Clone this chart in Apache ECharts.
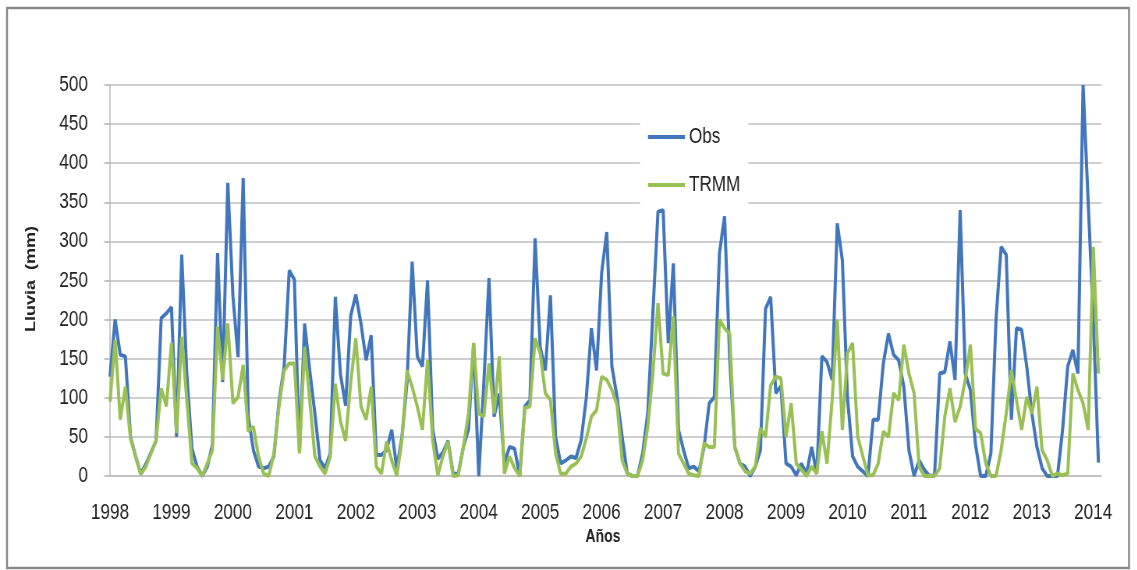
<!DOCTYPE html>
<html>
<head>
<meta charset="utf-8">
<script src="https://cdn.jsdelivr.net/npm/echarts@6/dist/echarts.min.js"></script>
<style>
  html, body { margin: 0; padding: 0; background: #ffffff; overflow: hidden; }
  /* The chart is laid out wider and compressed horizontally, giving the tall,
     condensed lettering of the original figure. */
  #chart { width: 1458px; height: 570px; transform: scaleX(0.78); transform-origin: 0 0; }
</style>
</head>
<body>
<div id="chart"></div>
<script>
// Year labels on the horizontal axis (one every 12 months, starting Jan 1998)
const years = ['1998', '1999', '2000', '2001', '2002', '2003', '2004', '2005', '2006',
               '2007', '2008', '2009', '2010', '2011', '2012', '2013', '2014'];

// Monthly rainfall (mm), January 1998 onwards — station observations
const obs = [
  127, 200, 155, 153, 50, 25, 3, 15, 30, 45, 202, 208,
  216, 50, 283, 130, 35, 12, 0, 12, 40, 285, 120, 375,
  230, 152, 381, 75, 33, 12, 10, 12, 25, 95, 140, 263,
  251, 30, 195, 135, 80, 20, 10, 29, 229, 130, 90, 205,
  232, 195, 148, 180, 27, 27, 33, 59, 10, 50, 120, 274,
  153, 140, 250, 60, 22, 30, 45, 3, 3, 37, 60, 170,
  0, 120, 253, 76, 105, 16, 37, 35, 0, 89, 97, 304,
  165, 135, 231, 50, 16, 20, 25, 23, 46, 100, 189, 135,
  260, 312, 140, 101, 50, 3, 0, 0, 29, 80, 208, 338,
  340, 170, 272, 59, 33, 10, 12, 6, 37, 93, 101, 285,
  332, 150, 37, 16, 12, 0, 12, 33, 214, 229, 106, 115,
  16, 12, 1, 16, 3, 37, 3, 153, 146, 123, 323, 276,
  100, 25, 12, 6, 0, 72, 72, 144, 182, 155, 148, 114,
  33, 0, 20, 8, 0, 1, 131, 133, 172, 123, 340, 131,
  110, 40, 0, 0, 29, 200, 293, 283, 72, 189, 187, 140,
  80, 37, 10, 0, 0, 0, 59, 140, 161, 131, 500, 350,
  200, 17
];

// Monthly rainfall (mm), same months — TRMM satellite estimate
const trmm = [
  95, 174, 72, 114, 48, 25, 2, 12, 29, 46, 112, 89,
  170, 55, 178, 97, 16, 10, 0, 16, 33, 191, 123, 195,
  93, 101, 142, 57, 63, 25, 3, 0, 29, 89, 135, 144,
  144, 29, 165, 97, 25, 12, 3, 25, 118, 70, 45, 120,
  176, 89, 72, 114, 12, 3, 44, 20, 0, 46, 135, 114,
  89, 59, 148, 46, 1, 25, 44, 0, 1, 37, 80, 170,
  80, 76, 144, 80, 153, 3, 25, 10, 0, 87, 89, 176,
  157, 106, 97, 29, 3, 3, 12, 16, 25, 48, 76, 84,
  127, 123, 110, 91, 20, 3, 0, 0, 20, 63, 131, 221,
  131, 129, 204, 29, 16, 3, 1, 0, 42, 37, 37, 200,
  189, 182, 37, 16, 6, 3, 12, 61, 50, 116, 127, 125,
  50, 93, 16, 8, 0, 12, 3, 57, 16, 97, 200, 59,
  157, 170, 50, 25, 1, 1, 16, 57, 50, 106, 97, 168,
  131, 106, 12, 0, 0, 0, 10, 76, 112, 69, 89, 123,
  168, 60, 55, 16, 0, 0, 33, 80, 135, 97, 59, 101,
  80, 114, 33, 20, 0, 3, 1, 3, 131, 110, 93, 59,
  293, 131
];

// Value-axis ticks
const yTicks = { min: 0, max: 500, step: 50 };

// Horizontal compression applied by the stylesheet; layout below is given in
// on-screen pixels and converted back to the chart's own (wider) frame.
const SX = 0.78;
const px = v => v / SX;

const SANS = '"Liberation Sans", Arial, sans-serif';
const GRID_GREY = '#bfbfbf';
const TEXT = '#222222';
const BLUE = '#4176bd';
const GREEN = '#99c054';

const chart = echarts.init(document.getElementById('chart'), null, { renderer: 'canvas' });

const option = {
  animation: false,
  backgroundColor: '#ffffff',
  grid: [
    // plotting area (months on x)
    { left: px(106), right: px(36), top: 85, bottom: 94 },
    // year-label strip, aligned so that month 0 sits under "1998"
    { left: px(110), right: px(44), top: 85, bottom: 94 }
  ],
  xAxis: [
    {
      gridIndex: 0, type: 'value', min: -0.78, max: 193.55,
      axisLine: { show: true, lineStyle: { color: GRID_GREY, width: 1.6 } },
      axisTick: { show: false }, axisLabel: { show: false }, splitLine: { show: false }
    },
    {
      gridIndex: 1, type: 'value', min: 0, max: (years.length - 1) * 12, interval: 12,
      axisLine: { show: false }, axisTick: { show: false }, splitLine: { show: false },
      axisLabel: {
        formatter: v => years[Math.round(v / 12)],
        color: TEXT, fontFamily: SANS, fontSize: 22, margin: 26
      }
    }
  ],
  yAxis: [
    {
      gridIndex: 0, type: 'value', min: yTicks.min, max: yTicks.max, interval: yTicks.step,
      axisLine: { show: true, lineStyle: { color: GRID_GREY, width: 1.6 } },
      axisTick: { show: true, length: px(6), lineStyle: { color: GRID_GREY, width: 1.6 } },
      axisLabel: { color: TEXT, fontFamily: SANS, fontSize: 22, margin: px(18) },
      splitLine: { show: true, lineStyle: { color: GRID_GREY, width: 1.6 } }
    },
    { gridIndex: 1, type: 'value', min: yTicks.min, max: yTicks.max, show: false }
  ],
  legend: {
    data: ['Obs', 'TRMM'],
    orient: 'vertical',
    left: px(640), top: 116,
    padding: [10, px(8)],
    itemGap: 26,
    icon: 'rect',
    itemWidth: px(37), itemHeight: 4,
    backgroundColor: '#ffffff',
    textStyle: { color: TEXT, fontFamily: SANS, fontSize: 22 },
    z: 10
  },
  series: [
    {
      name: 'Obs', type: 'line', xAxisIndex: 0, yAxisIndex: 0,
      data: obs.map((v, i) => [i, v]),
      symbol: 'none',
      lineStyle: { color: BLUE, width: 4 },
      itemStyle: { color: BLUE }
    },
    {
      name: 'TRMM', type: 'line', xAxisIndex: 0, yAxisIndex: 0,
      data: trmm.map((v, i) => [i, v]),
      symbol: 'none',
      lineStyle: { color: GREEN, width: 4 },
      itemStyle: { color: GREEN }
    }
  ],
  graphic: [
    {
      type: 'rect', silent: true, z: 100,
      shape: { x: px(7), y: 8, width: px(1122), height: 560 },
      style: { fill: 'none', stroke: '#8a8a8a', lineWidth: 2.5 }
    },
    {
      type: 'text', silent: true,
      x: px(31), y: 279, rotation: Math.PI / 2,
      style: {
        text: 'Lluvia  (mm)', fill: TEXT, font: 'bold 18px ' + SANS,
        align: 'center', verticalAlign: 'middle'
      }
    },
    {
      type: 'text', silent: true,
      x: px(603), y: 537,
      style: {
        text: 'Años', fill: TEXT, font: 'bold 18px ' + SANS,
        align: 'center', verticalAlign: 'middle'
      }
    }
  ]
};

chart.setOption(option);
</script>
</body>
</html>
